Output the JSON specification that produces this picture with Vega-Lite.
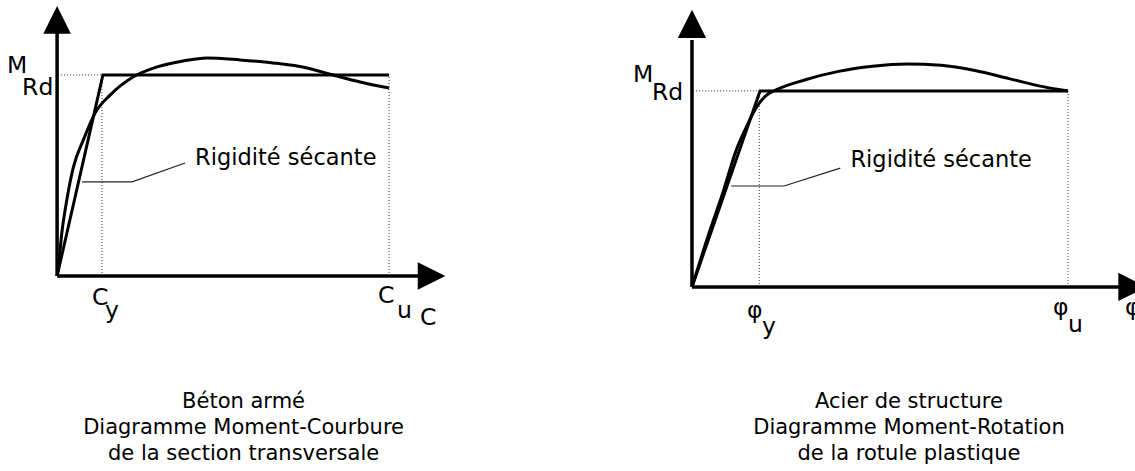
{
  "$schema": "https://vega.github.io/schema/vega-lite/v6.json",
  "padding": 0,
  "spacing": 0,
  "background": "white",
  "config": {"view": {"stroke": null}, "text": {"font": "DejaVu Sans", "color": "black"}},
  "hconcat": [
    {
      "width": 567,
      "height": 471,
      "encoding": {
        "x": {"field": "x", "type": "quantitative", "scale": {"domain": [-1.72, 15.36], "nice": false, "zero": false}, "axis": null},
        "y": {"field": "y", "type": "quantitative", "scale": {"domain": [-0.97, 1.373], "nice": false, "zero": false}, "axis": null}
      },
      "layer": [
        {
          "data": {"values": [
            {"x": 0.03, "y": 1, "x2": 1.35, "y2": 1},
            {"x": 1.35, "y": 0, "x2": 1.35, "y2": 1},
            {"x": 10, "y": 0, "x2": 10, "y2": 1}
          ]},
          "mark": {"type": "rule", "strokeDash": [1, 2], "strokeWidth": 1, "color": "#333"},
          "encoding": {"x2": {"field": "x2"}, "y2": {"field": "y2"}}
        },
        {
          "data": {"values": [
            {"x": 0, "y": 0, "x2": 0, "y2": 1.22},
            {"x": 0, "y": 0, "x2": 10.95, "y2": 0}
          ]},
          "mark": {"type": "rule", "strokeWidth": 3.5, "color": "black"},
          "encoding": {"x2": {"field": "x2"}, "y2": {"field": "y2"}}
        },
        {
          "data": {"values": [
            {"x": 0, "y": 1.274, "dir": "up"},
            {"x": 11.28, "y": 0, "dir": "right"}
          ]},
          "mark": {"type": "point", "filled": true, "color": "black", "opacity": 1, "size": 760},
          "encoding": {"shape": {"field": "dir", "type": "nominal", "scale": {"domain": ["up", "right"], "range": ["M0,-1L1,1L-1,1Z", "M1,0L-1,1L-1,-1Z"]}, "legend": null}}
        },
        {
          "data": {"values": [
            {"x": 0, "y": 0},
            {"x": 1.38, "y": 1},
            {"x": 10, "y": 1}
          ]},
          "mark": {"type": "line", "strokeWidth": 3, "color": "black", "strokeJoin": "miter"},
          "encoding": {}
        },
        {
          "data": {"values": [
            {"x": 0, "y": 0},
            {"x": 0.039, "y": 0.046},
            {"x": 0.142, "y": 0.214},
            {"x": 0.292, "y": 0.378},
            {"x": 0.491, "y": 0.542},
            {"x": 0.792, "y": 0.677},
            {"x": 1.145, "y": 0.811},
            {"x": 1.596, "y": 0.9},
            {"x": 2.289, "y": 0.99},
            {"x": 3.012, "y": 1.04},
            {"x": 3.795, "y": 1.07},
            {"x": 4.518, "y": 1.085},
            {"x": 5.512, "y": 1.075},
            {"x": 6.506, "y": 1.06},
            {"x": 7.53, "y": 1.035},
            {"x": 8.313, "y": 1.0},
            {"x": 9.127, "y": 0.965},
            {"x": 10, "y": 0.935}
          ]},
          "mark": {"type": "line", "strokeWidth": 3, "color": "black", "interpolate": "monotone"},
          "encoding": {}
        },
        {
          "data": {"values": [
            {"x": 0.753, "y": 0.468},
            {"x": 2.259, "y": 0.468},
            {"x": 3.855, "y": 0.562}
          ]},
          "mark": {"type": "line", "strokeWidth": 1.2, "color": "#222"},
          "encoding": {}
        },
        {
          "data": {"values": [
            {"x": 4.157, "y": 0.552, "t": "Rigidité sécante"}
          ]},
          "mark": {"type": "text", "fontSize": 22.5, "align": "left", "baseline": "alphabetic"},
          "encoding": {"text": {"field": "t"}}
        },
        {
          "data": {"values": [
            {"x": -1.506, "y": 1.01, "t": "M"},
            {"x": -1.054, "y": 0.9, "t": "Rd"},
            {"x": 1.054, "y": -0.144, "t": "C"},
            {"x": 1.446, "y": -0.209, "t": "y"},
            {"x": 9.669, "y": -0.134, "t": "C"},
            {"x": 10.241, "y": -0.209, "t": "u"},
            {"x": 10.934, "y": -0.244, "t": "C"}
          ]},
          "mark": {"type": "text", "fontSize": 23.5, "align": "left", "baseline": "alphabetic"},
          "encoding": {"text": {"field": "t"}}
        },
        {
          "data": {"values": [
            {"x": 5.617, "y": -0.657, "t": "Béton armé"},
            {"x": 5.617, "y": -0.786, "t": "Diagramme Moment-Courbure"},
            {"x": 5.617, "y": -0.915, "t": "de la section transversale"}
          ]},
          "mark": {"type": "text", "fontSize": 21, "align": "center", "baseline": "alphabetic"},
          "encoding": {"text": {"field": "t"}}
        }
      ]
    },
    {
      "width": 568,
      "height": 471,
      "encoding": {
        "x": {"field": "x", "type": "quantitative", "scale": {"domain": [-3.324, 11.782], "nice": false, "zero": false}, "axis": null},
        "y": {"field": "y", "type": "quantitative", "scale": {"domain": [-0.939, 1.464], "nice": false, "zero": false}, "axis": null}
      },
      "layer": [
        {
          "data": {"values": [
            {"x": 0.03, "y": 1, "x2": 1.79, "y2": 1},
            {"x": 1.79, "y": 0, "x2": 1.79, "y2": 1},
            {"x": 10, "y": 0, "x2": 10, "y2": 1}
          ]},
          "mark": {"type": "rule", "strokeDash": [1, 2], "strokeWidth": 1, "color": "#333"},
          "encoding": {"x2": {"field": "x2"}, "y2": {"field": "y2"}}
        },
        {
          "data": {"values": [
            {"x": 0, "y": 0, "x2": 0, "y2": 1.26},
            {"x": 0, "y": 0, "x2": 11.38, "y2": 0}
          ]},
          "mark": {"type": "rule", "strokeWidth": 3.5, "color": "black"},
          "encoding": {"x2": {"field": "x2"}, "y2": {"field": "y2"}}
        },
        {
          "data": {"values": [
            {"x": 0, "y": 1.342, "dir": "up"},
            {"x": 11.715, "y": 0, "dir": "right"}
          ]},
          "mark": {"type": "point", "filled": true, "color": "black", "opacity": 1, "size": 800},
          "encoding": {"shape": {"field": "dir", "type": "nominal", "scale": {"domain": ["up", "right"], "range": ["M0,-1L1,1L-1,1Z", "M1,0L-1,1L-1,-1Z"]}, "legend": null}}
        },
        {
          "data": {"values": [
            {"x": 0, "y": 0},
            {"x": 1.81, "y": 1},
            {"x": 10, "y": 1}
          ]},
          "mark": {"type": "line", "strokeWidth": 3, "color": "black", "strokeJoin": "miter"},
          "encoding": {}
        },
        {
          "data": {"values": [
            {"x": 0, "y": 0},
            {"x": 0.452, "y": 0.274},
            {"x": 0.816, "y": 0.478},
            {"x": 1.178, "y": 0.699},
            {"x": 1.45, "y": 0.818},
            {"x": 1.723, "y": 0.92},
            {"x": 1.995, "y": 0.98},
            {"x": 2.266, "y": 1.008},
            {"x": 2.992, "y": 1.056},
            {"x": 3.899, "y": 1.1},
            {"x": 4.806, "y": 1.126},
            {"x": 5.713, "y": 1.138},
            {"x": 6.62, "y": 1.131},
            {"x": 7.527, "y": 1.104},
            {"x": 8.431, "y": 1.063},
            {"x": 9.338, "y": 1.022},
            {"x": 10, "y": 1.0}
          ]},
          "mark": {"type": "line", "strokeWidth": 3, "color": "black", "interpolate": "monotone"},
          "encoding": {}
        },
        {
          "data": {"values": [
            {"x": 1.043, "y": 0.515},
            {"x": 2.447, "y": 0.515},
            {"x": 3.944, "y": 0.606}
          ]},
          "mark": {"type": "line", "strokeWidth": 1.2, "color": "#222"},
          "encoding": {}
        },
        {
          "data": {"values": [
            {"x": 4.215, "y": 0.614, "t": "Rigidité sécante"}
          ]},
          "mark": {"type": "text", "fontSize": 22.5, "align": "left", "baseline": "alphabetic"},
          "encoding": {"text": {"field": "t"}}
        },
        {
          "data": {"values": [
            {"x": -1.569, "y": 1.046, "t": "M"},
            {"x": -1.064, "y": 0.954, "t": "Rd"},
            {"x": 1.463, "y": -0.158, "t": "φ"},
            {"x": 1.862, "y": -0.24, "t": "y"},
            {"x": 9.601, "y": -0.143, "t": "φ"},
            {"x": 10.0, "y": -0.23, "t": "u"},
            {"x": 11.516, "y": -0.143, "t": "φ"}
          ]},
          "mark": {"type": "text", "fontSize": 23.5, "align": "left", "baseline": "alphabetic"},
          "encoding": {"text": {"field": "t"}}
        },
        {
          "data": {"values": [
            {"x": 5.771, "y": -0.617, "t": "Acier de structure"},
            {"x": 5.771, "y": -0.75, "t": "Diagramme Moment-Rotation"},
            {"x": 5.771, "y": -0.883, "t": "de la rotule plastique"}
          ]},
          "mark": {"type": "text", "fontSize": 21, "align": "center", "baseline": "alphabetic"},
          "encoding": {"text": {"field": "t"}}
        }
      ]
    }
  ]
}
